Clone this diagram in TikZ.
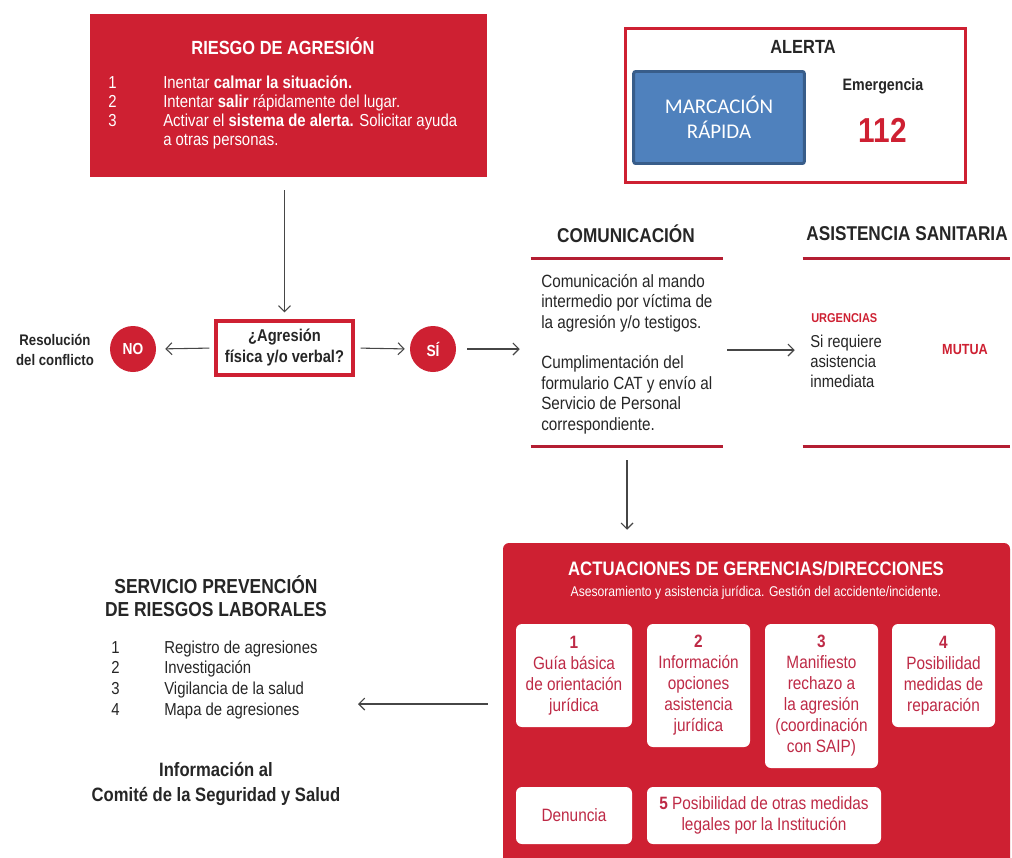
\documentclass[tikz,border=0pt]{standalone}
\usepackage{fontspec}
\setmainfont{Liberation Sans}[FakeStretch=0.86]
\newfontfamily\calib{Carlito}
\usetikzlibrary{arrows.meta}
\definecolor{rojo}{RGB}{206,32,50}
\definecolor{rojot}{RGB}{190,42,70}
\definecolor{rojol}{RGB}{180,30,50}
\definecolor{azul}{RGB}{79,129,189}
\definecolor{azulb}{RGB}{56,93,138}
\definecolor{gris}{RGB}{38,38,38}
\definecolor{flecha}{RGB}{70,70,70}
\newcommand{\fsz}[2]{\fontsize{#1}{#2}\selectfont}
\begin{document}
\begin{tikzpicture}[x=0.75pt,y=-0.75pt,
  arr/.style={draw=flecha,line width=0.8pt,-{Straight Barb[length=4.5pt,width=9pt]}},
  redline/.style={draw=rojol,line width=2.6pt},
  wbox/.style={fill=white,rounded corners=4.5pt,text=rojot,align=center,inner sep=2pt,font=\fsz{13.4}{15.75}},
  circ/.style={circle,fill=rojo,text=white,font=\bfseries\fsz{12}{14},minimum size=34.5pt,inner sep=0pt},
  hdr/.style={font=\bfseries\fsz{15}{17},text=gris},
]
\useasboundingbox (0,0) rectangle (1012,857);
\fill[white] (0,0) rectangle (1012,857);

% Riesgo de agresion
\node[fill=rojo,minimum width=297.75pt,minimum height=122.25pt,inner sep=0pt] (riesgo) at (288.5,95.5) {};
\node[text=white,font=\bfseries\fsz{14.3}{16}] (rtit) at (283,46) {RIESGO DE AGRESIÓN};
\node[text=white,anchor=north west,inner sep=0pt,font=\fsz{13}{14.25}] (rlist) at (108,74.7) {\begin{tabular}{@{}p{41.25pt}@{}l@{}}
1 & Inentar \textbf{calmar la situación.}\\
2 & Intentar \textbf{salir} rápidamente del lugar.\\
3 & Activar el \textbf{sistema de alerta.} Solicitar ayuda\\
 & a otras personas.
\end{tabular}};

% Decision row
\node[draw=rojo,line width=2.4pt,minimum width=102.75pt,minimum height=40.5pt,align=center,font=\bfseries\fsz{12.8}{15.75},text=gris,inner sep=0pt] (dec) at (284.5,348) {¿Agresión\\física y/o verbal?};
\node[circ] (no) at (133,349) {NO};
\node[circ] (si) at (433,349) {SÍ};
\node[font=\bfseries\fsz{11.5}{15.5},text=gris,align=center] (res) at (55,350) {Resolución\\del conflicto};

% Alerta
\node[draw=rojo,line width=2.4pt,minimum width=255pt,minimum height=115.5pt,inner sep=0pt] (alerta) at (795.5,105.5) {};
\node[font=\bfseries\fsz{14.3}{16},text=gris] (alt) at (803,47) {ALERTA};
\node[draw=azulb,fill=azul,line width=2.2pt,rounded corners=1.5pt,minimum width=128pt,minimum height=69pt,align=center,text=white,font=\calib\fsz{15.7}{18.75},inner sep=0pt] (marc) at (719,117.5) {MARCACIÓN\\RÁPIDA};
\node[font=\bfseries\fsz{12.4}{14},text=gris] (emer) at (883,86) {Emergencia};
\node[font=\bfseries\fsz{26}{30},text=rojo] (num) at (883,130) {112};

% Comunicacion
\node[hdr] (comt) at (626,234) {COMUNICACIÓN};
\node[minimum width=144pt,minimum height=140.25pt,inner sep=0pt] (com) at (627,352.5) {};
\draw[redline] (com.north west) -- (com.north east);
\draw[redline] (com.south west) -- (com.south east);
\node[anchor=north west,inner sep=0pt,font=\fsz{13.3}{15.3},text=gris] (comtxt) at (541,272.7) {\begin{tabular}{@{}l@{}}
Comunicación al mando\\
intermedio por víctima de\\
la agresión y/o testigos.\\
\\
Cumplimentación del\\
formulario CAT y envío al\\
Servicio de Personal\\
correspondiente.
\end{tabular}};

% Asistencia sanitaria
\node[hdr] (asit) at (907,234) {ASISTENCIA SANITARIA};
\node[minimum width=155.25pt,minimum height=140.25pt,inner sep=0pt] (asis) at (906.5,352.5) {};
\draw[redline] (asis.north west) -- (asis.north east);
\draw[redline] (asis.south west) -- (asis.south east);
\node[anchor=west,inner sep=0pt,font=\bfseries\fsz{9.6}{11},text=rojo] (urg) at (811,318) {URGENCIAS};
\node[anchor=north west,inner sep=0pt,font=\fsz{12.9}{15},text=gris] (sireq) at (810,333) {\begin{tabular}{@{}l@{}}
Si requiere\\ asistencia\\ inmediata
\end{tabular}};
\node[font=\bfseries\fsz{11}{12},text=rojo] (mutua) at (965,350) {MUTUA};

% Actuaciones
\node[fill=rojo,rounded corners=4.5pt,minimum width=380.25pt,minimum height=249pt,inner sep=0pt] (act) at (756.5,709) {};
\node[text=white,font=\bfseries\fsz{14.6}{16}] (actt) at (756,569) {ACTUACIONES DE GERENCIAS/DIRECCIONES};
\node[text=white,font=\fsz{10.6}{12}] (acts) at (756,593) {Asesoramiento y asistencia jurídica. Gestión del accidente/incidente.};
\node[wbox,minimum width=87pt,minimum height=77.25pt] (b1) at (574,675.5) {\textbf{1}\\Guía básica\\de orientación\\jurídica};
\node[wbox,minimum width=77.25pt,minimum height=92.25pt] (b2) at (698.5,685.5) {\textbf{2}\\Información\\opciones\\asistencia\\jurídica};
\node[wbox,minimum width=84.75pt,minimum height=108pt] (b3) at (821.5,696) {\textbf{3}\\Manifiesto\\rechazo a\\la agresión\\(coordinación\\con SAIP)};
\node[wbox,minimum width=77.25pt,minimum height=77.25pt] (b4) at (943.5,675.5) {\textbf{4}\\Posibilidad\\medidas de\\reparación};
\node[wbox,minimum width=87pt,minimum height=42.75pt] (den) at (574,815.5) {Denuncia};
\node[wbox,minimum width=175.5pt,minimum height=42.75pt] (b5) at (764,815.5) {\textbf{5} Posibilidad de otras medidas\\legales por la Institución};

% Servicio prevencion
\node[align=center,font=\bfseries\fsz{15.2}{17.25},text=gris] (serv) at (216,596.5) {SERVICIO PREVENCIÓN\\DE RIESGOS LABORALES};
\node[anchor=north west,inner sep=0pt,font=\fsz{13}{15.5},text=gris] (slist) at (111,638.5) {\begin{tabular}{@{}p{39.75pt}@{}l@{}}
1 & Registro de agresiones\\
2 & Investigación\\
3 & Vigilancia de la salud\\
4 & Mapa de agresiones
\end{tabular}};
\node[align=center,font=\bfseries\fsz{14.5}{18.5},text=gris] (info) at (216,784) {Información al\\Comité de la Seguridad y Salud};
\coordinate (servin) at (358,704);

% Connectors
\draw[arr,shorten <=9.75pt,shorten >=5.25pt] (dec.north |- riesgo.south) -- (dec.north);
\draw[arr,shorten <=3.75pt,shorten >=6.75pt] (dec.west) -- (no.east);
\draw[arr,shorten <=4.5pt,shorten >=3.75pt] (dec.east) -- (si.west);
\draw[arr,shorten <=8.25pt,shorten >=8.25pt] (si.east) -- (com.west |- si.east);
\draw[arr,shorten <=3pt,shorten >=6pt] (com.east |- 0,350) -- (asis.west |- 0,350);
\draw[arr,shorten <=10.5pt,shorten >=9.75pt] (com.south) -- (com.south |- act.north);
\draw[arr,shorten <=11.25pt] (act.west |- servin) -- (servin);
\end{tikzpicture}
\end{document}
